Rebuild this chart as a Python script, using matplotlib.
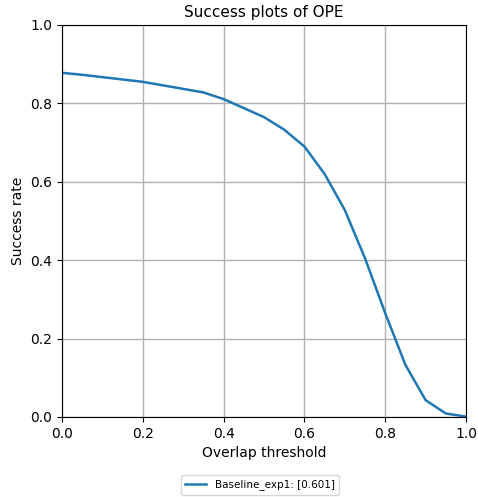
import numpy as np
import matplotlib
matplotlib.use("Agg")
import matplotlib.pyplot as plt

thresholds = np.round(np.arange(0, 1.0001, 0.05), 2)
success = [0.878, 0.873, 0.867, 0.861, 0.855, 0.846, 0.837, 0.828, 0.811, 0.788,
           0.765, 0.733, 0.690, 0.620, 0.528, 0.405, 0.265, 0.133, 0.043, 0.009, 0.001]
label = "Baseline_exp1: [0.601]"

fig = plt.figure(figsize=(4.78, 4.97), dpi=100)
ax = fig.add_axes([62/478, 1 - 417/497, (466-62)/478, (417-25)/497])
ax.plot(thresholds, success, color="#1f77b4", linewidth=1.8, label=label)
ax.set_xlim(0, 1)
ax.set_ylim(0, 1)
ax.set_xticks(np.arange(0, 1.01, 0.2))
ax.set_yticks(np.arange(0, 1.01, 0.2))
ax.grid(True, color="#b0b0b0", linewidth=1.0)
ax.set_title("Success plots of OPE", fontsize=11)
ax.set_xlabel("Overlap threshold", fontsize=10)
ax.set_ylabel("Success rate", fontsize=10)
ax.tick_params(labelsize=10)
fig.legend(loc="center", bbox_to_anchor=(260/478, 1 - 485/497), fontsize=7.5, frameon=True)
fig.savefig("out.png", dpi=100)
